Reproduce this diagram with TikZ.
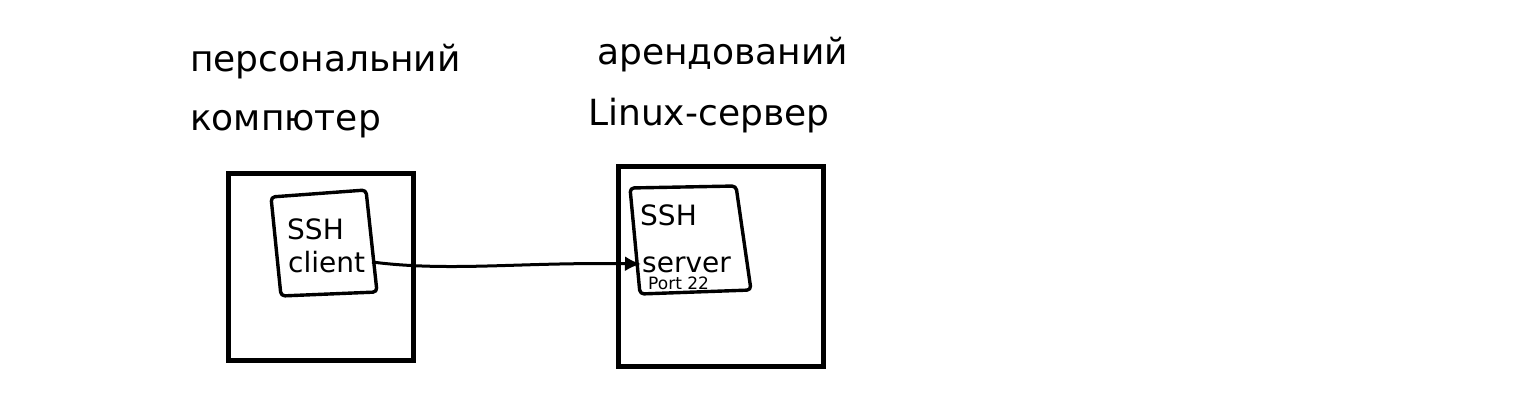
\documentclass[tikz,border=0pt]{standalone}
\usepackage{fontspec}
\setmainfont{DejaVu Sans}
\usetikzlibrary{arrows.meta}
\begin{document}
\begin{tikzpicture}[x=1pt,y=-1pt,
  outerbox/.style={draw=black, line width=5pt, inner sep=0pt, minimum width=185pt, minimum height=187pt},
  outerboxb/.style={draw=black, line width=5pt, inner sep=0pt, minimum width=205pt, minimum height=200pt},
  innerbox/.style={draw=black, line width=3.4pt, line join=round, rounded corners=4pt},
  title/.style={anchor=base west, inner sep=0pt, font=\fontsize{36}{40}\selectfont},
  lbl/.style={anchor=base west, inner sep=0pt, font=\fontsize{28}{32}\selectfont},
  small/.style={anchor=base west, inner sep=0pt, font=\fontsize{17}{19}\selectfont},
  conn/.style={line width=3pt, -{Latex[length=16pt,width=15pt]}}
]
\useasboundingbox (0,0) rectangle (1532,412);
% titles
\node[title] (t1) at (190,72) {персональний};
\node[title] (t2) at (190,130) {компютер};
\node[title] (t3) at (597,65) {арендований};
\node[title] (t4) at (588,125) {Linux-сервер};
% outer boxes
\node[outerbox] (pc) at (320.5,266.5) {};
\node[outerboxb] (srv) at (720.5,266.5) {};
% inner boxes
\draw[innerbox] (271,197) -- (366,190) -- (377,292) -- (281,296) -- cycle;
\draw[innerbox] (630,188) -- (736,186) -- (751,290) -- (640,294) -- cycle;
% texts
\node[lbl] (ssh1) at (287,239) {SSH};
\node[lbl] (cl) at (288,272) {client};
\node[lbl] (ssh2) at (640,225) {SSH};
\node[lbl] (sv) at (642,272) {server};
\node[small] (port) at (648,289) {Port 22};
% connector
\coordinate (a) at (372,262);
\coordinate (b) at (641,264);
\draw[conn] (a) .. controls (450,272) and (520,262) .. (b);
\end{tikzpicture}
\end{document}
